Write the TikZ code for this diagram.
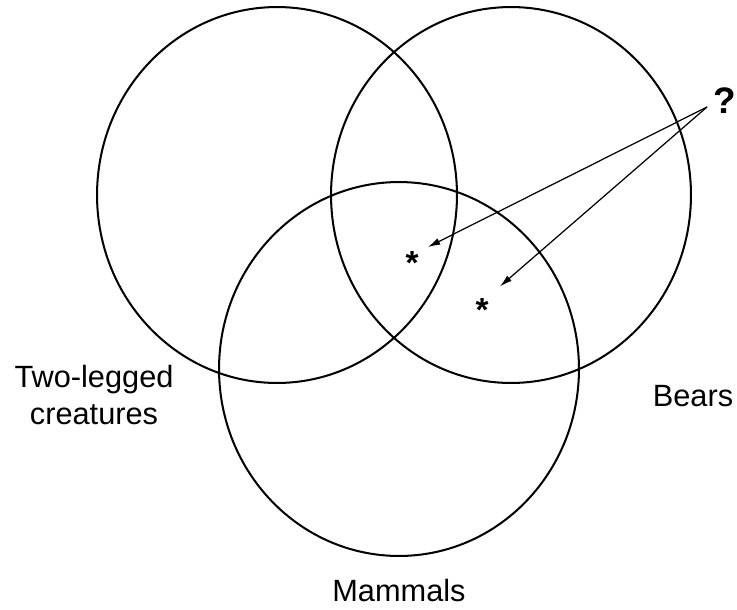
\documentclass[tikz,border=0pt]{standalone}
\usepackage{fontspec}
\setmainfont{Liberation Sans}
\usepackage{tikz}
\usetikzlibrary{positioning, arrows.meta}

\begin{document}
\begin{tikzpicture}[
  x=0.02cm, y=-0.02cm,
  setline/.style={line width=1.15pt, black},
  setlabel/.style={font=\fontsize{17.5}{21}\selectfont, align=center, inner sep=0pt},
  starmark/.style={circle, minimum size=0.7cm, inner sep=0pt,
                   font=\fontsize{19}{19}\selectfont\bfseries},
  pointer/.style={-{Latex[length=7pt, width=4pt]}, line width=0.7pt},
]
  \useasboundingbox (0,0) rectangle (737,609);

  % the three sets
  \draw[setline] (277,195) ellipse [x radius=3.6cm, y radius=3.76cm];
  \draw[setline] (511,195) ellipse [x radius=3.6cm, y radius=3.76cm];
  \draw[setline] (399,369) ellipse [x radius=3.6cm, y radius=3.74cm];

  % set names
  \node[setlabel] (twolegged) at (94,395) {Two-legged\\creatures};
  \node[setlabel] (bears) at (693,396) {Bears};
  \node[setlabel] (mammals) at (399,590) {Mammals};

  % the two candidates and the question
  \node[starmark] (starA) at (412,255) {\smash{\raisebox{-0.58em}{*}}};
  \node[starmark] (starB) at (482,302) {\smash{\raisebox{-0.58em}{*}}};
  \node[font=\fontsize{21}{21}\selectfont\bfseries, inner sep=0pt] (query) at (725,101) {?};
  \coordinate (qfoot) at (707,107);

  % pointers from the question
  \draw[pointer] (qfoot) -- (starA);
  \draw[pointer, shorten >=0.12cm] (qfoot) -- (starB);
\end{tikzpicture}
\end{document}
